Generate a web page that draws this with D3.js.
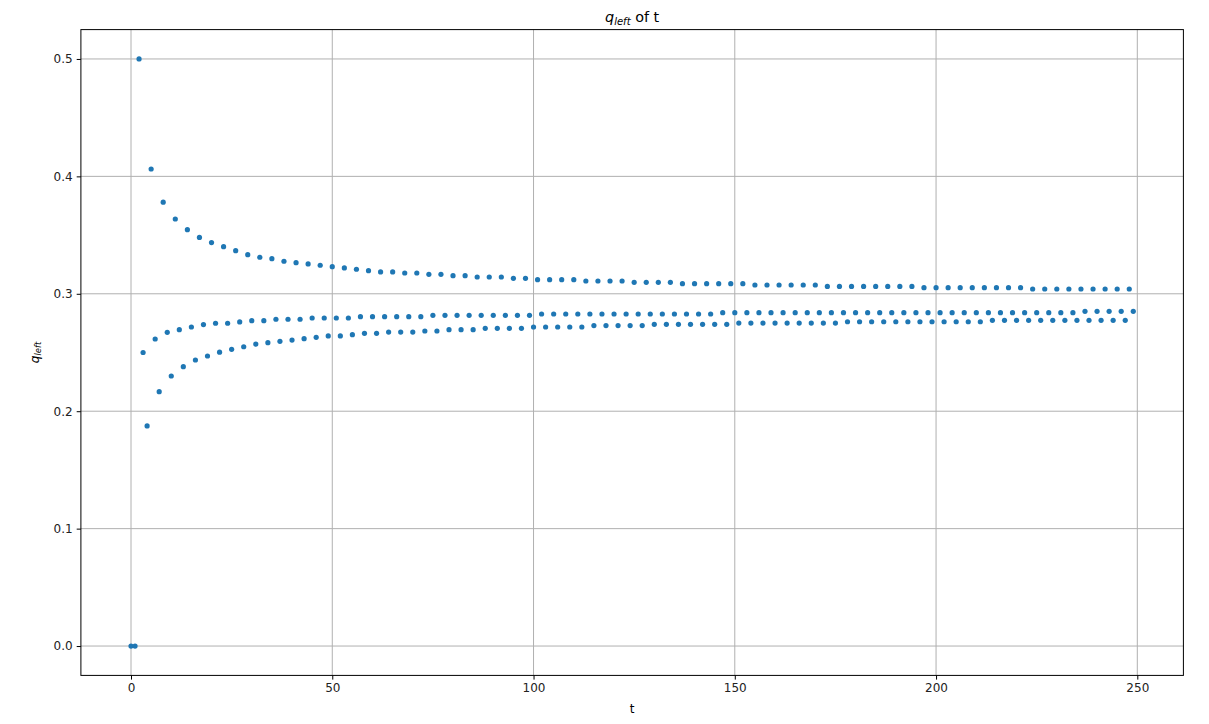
<!DOCTYPE html>
<html>
<head>
<meta charset="utf-8">
<script src="https://cdn.jsdelivr.net/npm/d3@7"></script>
<style>
  body { margin: 0; background: #fff; }
  text { font-family: "DejaVu Sans", sans-serif; }
</style>
</head>
<body>
<div class="chart"></div>
<script>
// q_left, one row per t = 3k, 3k+1, 3k+2
var qLeft = [
  0, 0, 0.5,
  0.25, 0.1875, 0.4063,
  0.2615, 0.2166, 0.378,
  0.2672, 0.23, 0.3637,
  0.2694, 0.2379, 0.3546,
  0.2717, 0.2436, 0.348,
  0.2738, 0.247, 0.3436,
  0.2749, 0.2503, 0.3401,
  0.2749, 0.2527, 0.3367,
  0.276, 0.2549, 0.3333,
  0.2771, 0.2572, 0.3311,
  0.2771, 0.2584, 0.3299,
  0.2783, 0.2595, 0.3277,
  0.2783, 0.2606, 0.3265,
  0.2783, 0.2618, 0.3254,
  0.2794, 0.2629, 0.3243,
  0.2794, 0.2641, 0.3231,
  0.2794, 0.2641, 0.322,
  0.2794, 0.2652, 0.3209,
  0.2805, 0.2663, 0.3197,
  0.2805, 0.2663, 0.3186,
  0.2805, 0.2674, 0.3186,
  0.2805, 0.2674, 0.3177,
  0.2805, 0.2674, 0.3177,
  0.2805, 0.2683, 0.3166,
  0.2817, 0.2683, 0.3166,
  0.2817, 0.2694, 0.3154,
  0.2817, 0.2694, 0.3154,
  0.2817, 0.2694, 0.3143,
  0.2817, 0.2706, 0.3143,
  0.2817, 0.2706, 0.3143,
  0.2817, 0.2706, 0.3132,
  0.2817, 0.2706, 0.3132,
  0.2817, 0.2717, 0.312,
  0.2828, 0.2717, 0.312,
  0.2828, 0.2717, 0.312,
  0.2828, 0.2717, 0.312,
  0.2828, 0.2717, 0.3109,
  0.2828, 0.2729, 0.3109,
  0.2828, 0.2729, 0.3109,
  0.2828, 0.2729, 0.3109,
  0.2828, 0.2729, 0.3098,
  0.2828, 0.2729, 0.3098,
  0.2828, 0.274, 0.3098,
  0.2828, 0.274, 0.3098,
  0.2828, 0.274, 0.3086,
  0.2828, 0.274, 0.3086,
  0.2828, 0.274, 0.3086,
  0.2828, 0.274, 0.3086,
  0.2839, 0.274, 0.3086,
  0.2839, 0.2751, 0.3086,
  0.2839, 0.2751, 0.3075,
  0.2839, 0.2751, 0.3075,
  0.2839, 0.2751, 0.3075,
  0.2839, 0.2751, 0.3075,
  0.2839, 0.2751, 0.3075,
  0.2839, 0.2751, 0.3075,
  0.2839, 0.2751, 0.3063,
  0.2839, 0.2751, 0.3063,
  0.2839, 0.2762, 0.3063,
  0.2839, 0.2762, 0.3063,
  0.2839, 0.2762, 0.3063,
  0.2839, 0.2762, 0.3063,
  0.2839, 0.2762, 0.3063,
  0.2839, 0.2762, 0.3063,
  0.2839, 0.2762, 0.3052,
  0.2839, 0.2762, 0.3052,
  0.2839, 0.2762, 0.3052,
  0.2839, 0.2762, 0.3052,
  0.2839, 0.2762, 0.3052,
  0.2839, 0.2762, 0.3052,
  0.2839, 0.2774, 0.3052,
  0.2839, 0.2774, 0.3052,
  0.2839, 0.2774, 0.3052,
  0.2839, 0.2774, 0.3041,
  0.2839, 0.2774, 0.3041,
  0.2839, 0.2774, 0.3041,
  0.2839, 0.2774, 0.3041,
  0.2839, 0.2774, 0.3041,
  0.2851, 0.2774, 0.3041,
  0.2851, 0.2774, 0.3041,
  0.2851, 0.2774, 0.3041,
  0.2851, 0.2774, 0.3041,
  0.2851
];

var xTicks = [0, 50, 100, 150, 200, 250];
var yTicks = [0, 0.1, 0.2, 0.3, 0.4, 0.5];

var svgWidth = 1209;
var svgHeight = 724;

var margin = { top: 29.6, bottom: 48.6, right: 25.6, left: 80.9 };
var width = svgWidth - margin.left - margin.right;
var height = svgHeight - margin.top - margin.bottom;

var svg = d3.select(".chart")
  .append("svg")
  .attr("width", svgWidth)
  .attr("height", svgHeight);

var chartGroup = svg.append("g")
  .attr("transform", `translate(${margin.left}, ${margin.top})`);

var data = qLeft.map(function(q, i) { return { t: i, q: q }; });

// matplotlib style 5% margins
var tMax = data.length - 1;
var xLinearScale = d3.scaleLinear()
  .domain([-0.05 * tMax, tMax * 1.05])
  .range([0, width]);

var yLinearScale = d3.scaleLinear()
  .domain([-0.025, 0.525])
  .range([height, 0]);

// grid
chartGroup.append("g")
  .selectAll("line")
  .data(xTicks)
  .enter()
  .append("line")
  .attr("x1", d => xLinearScale(d))
  .attr("x2", d => xLinearScale(d))
  .attr("y1", 0)
  .attr("y2", height)
  .attr("stroke", "#b0b0b0")
  .attr("stroke-width", 1);

chartGroup.append("g")
  .selectAll("line")
  .data(yTicks)
  .enter()
  .append("line")
  .attr("x1", 0)
  .attr("x2", width)
  .attr("y1", d => yLinearScale(d))
  .attr("y2", d => yLinearScale(d))
  .attr("stroke", "#b0b0b0")
  .attr("stroke-width", 1);

// axes
var xAxis = d3.axisBottom(xLinearScale).tickValues(xTicks).tickSize(4.2).tickPadding(4)
  .tickFormat(d3.format("d"));
var yAxis = d3.axisLeft(yLinearScale).tickValues(yTicks).tickSize(4.2).tickPadding(4)
  .tickFormat(d3.format(".1f"));

var xG = chartGroup.append("g")
  .attr("transform", `translate(0, ${height})`)
  .call(xAxis);

var yG = chartGroup.append("g")
  .call(yAxis);

[xG, yG].forEach(function(g) {
  g.select(".domain").remove();
  g.selectAll(".tick line").attr("stroke", "#000").attr("stroke-width", 1);
  g.selectAll(".tick text")
    .attr("fill", "#222")
    .attr("font-size", "12px")
    .attr("font-family", "DejaVu Sans, sans-serif");
});

// frame
chartGroup.append("rect")
  .attr("width", width)
  .attr("height", height)
  .attr("fill", "none")
  .attr("stroke", "#000")
  .attr("stroke-width", 1);

// points
chartGroup.append("g")
  .selectAll("circle")
  .data(data)
  .enter()
  .append("circle")
  .attr("cx", d => xLinearScale(d.t))
  .attr("cy", d => yLinearScale(d.q))
  .attr("r", 2.6)
  .attr("fill", "#1f77b4");

// title
var title = svg.append("text")
  .attr("x", margin.left + width / 2)
  .attr("y", margin.top - 7.5)
  .attr("text-anchor", "middle")
  .attr("font-size", "14.4px")
  .attr("fill", "#000");
title.append("tspan").attr("font-style", "italic").text("q");
title.append("tspan").attr("font-style", "italic").attr("font-size", "10px").attr("dy", 2.5).text("left");
title.append("tspan").attr("dy", -2.5).text(" of t");

// x label
svg.append("text")
  .attr("x", margin.left + width / 2)
  .attr("y", margin.top + height + 38)
  .attr("text-anchor", "middle")
  .attr("font-size", "12px")
  .attr("fill", "#000")
  .text("t");

// y label
var yLabel = svg.append("text")
  .attr("transform", `translate(${39}, ${margin.top + height / 2}) rotate(270)`)
  .attr("text-anchor", "middle")
  .attr("font-size", "12px")
  .attr("fill", "#000");
yLabel.append("tspan").attr("font-style", "italic").text("q");
yLabel.append("tspan").attr("font-style", "italic").attr("font-size", "8.4px").attr("dy", 2.2).text("left");
</script>
</body>
</html>
